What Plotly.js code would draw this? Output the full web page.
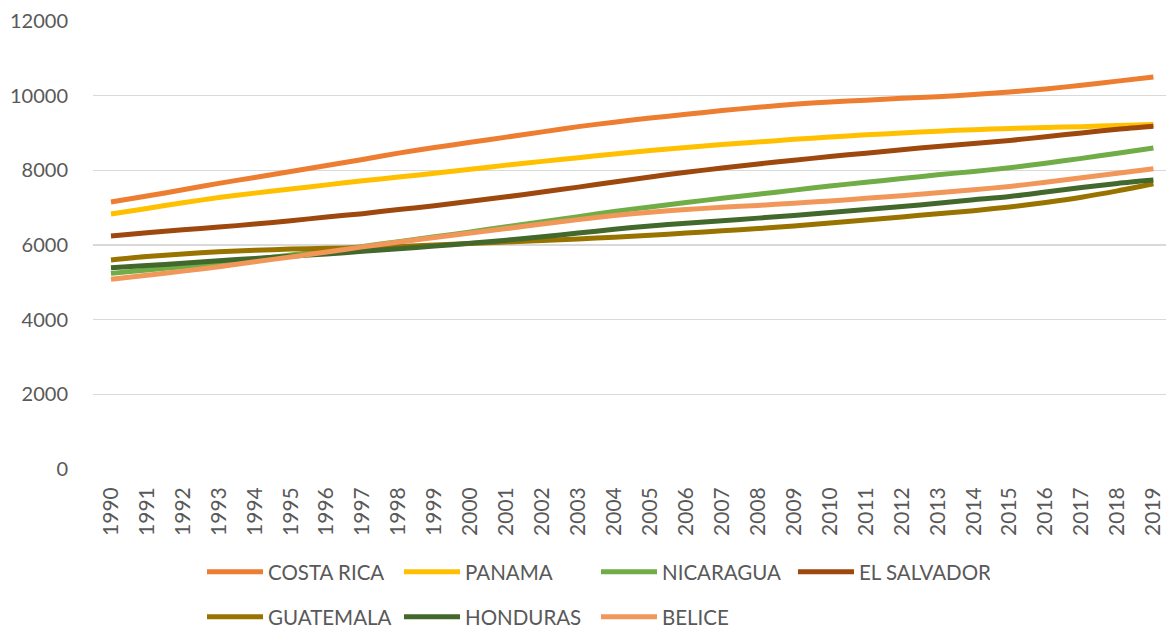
<!DOCTYPE html>
<html>
<head>
<meta charset="utf-8">
<script src="https://cdn.plot.ly/plotly-3.0.1.min.js"></script>
<style>html,body{margin:0;padding:0;background:#fff;}#chart{width:1166px;height:628px;}</style>
</head>
<body>
<div id="chart"></div>
<script>
const years = [1990,1991,1992,1993,1994,1995,1996,1997,1998,1999,2000,2001,2002,2003,2004,2005,2006,2007,2008,2009,2010,2011,2012,2013,2014,2015,2016,2017,2018,2019];
const yearLabels = years.map(String);

const costaRica = [7150,7310,7480,7650,7810,7970,8130,8290,8460,8610,8750,8890,9030,9170,9290,9400,9500,9600,9690,9770,9830,9880,9930,9970,10030,10100,10180,10280,10390,10500];
const panama    = [6830,6980,7130,7270,7390,7500,7610,7720,7820,7920,8030,8140,8240,8340,8440,8530,8610,8690,8760,8830,8890,8950,9000,9050,9090,9120,9150,9170,9200,9230];
const nicaragua = [5240,5330,5420,5520,5620,5730,5840,5960,6090,6220,6350,6490,6620,6760,6900,7020,7140,7250,7360,7470,7580,7680,7780,7880,7970,8070,8190,8320,8460,8600];
const elSalvador= [6240,6330,6410,6480,6560,6650,6750,6840,6950,7050,7170,7290,7420,7550,7690,7820,7950,8060,8170,8270,8370,8460,8550,8640,8720,8800,8900,9000,9100,9180];
const guatemala = [5600,5690,5760,5820,5860,5890,5910,5930,5960,6000,6040,6080,6120,6160,6210,6260,6320,6380,6440,6510,6590,6670,6750,6840,6920,7020,7140,7280,7450,7640];
const honduras  = [5390,5450,5510,5580,5640,5700,5760,5830,5900,5970,6050,6130,6220,6320,6420,6510,6580,6650,6720,6790,6870,6950,7030,7120,7210,7300,7420,7540,7650,7740];
const belice    = [5080,5190,5300,5420,5550,5680,5810,5950,6080,6200,6320,6440,6560,6680,6790,6880,6950,7010,7060,7120,7180,7250,7320,7400,7480,7570,7680,7800,7920,8040];

const seriesNames = ["COSTA RICA","PANAMA","NICARAGUA","EL SALVADOR","GUATEMALA","HONDURAS","BELICE"];
const seriesData = [costaRica,panama,nicaragua,elSalvador,guatemala,honduras,belice];
const seriesColors = ["#ED7D31","#FFC000","#70AD47","#9E480E","#997300","#43682B","#F1975A"];
const legendGroup = ["legend","legend","legend","legend","legend2","legend2","legend2"];

const traces = seriesNames.map((n,i)=>({
  x: years, y: seriesData[i], name: n, type: 'scatter', mode: 'lines',
  line: {color: seriesColors[i], width: 5, shape: 'spline', smoothing: 0.8},
  legend: legendGroup[i], hoverinfo: 'x+y+name'
}));

const fontFam = 'Lato, "Open Sans", sans-serif';
const legendCommon = {
  orientation: 'h', xref: 'container', yref: 'container', xanchor: 'left', yanchor: 'middle',
  font: {family: fontFam, size: 20.5, color: '#595959'},
  entrywidth: 126, entrywidthmode: 'pixels', itemwidth: 56, bgcolor: 'rgba(0,0,0,0)', tracegroupgap: 0
};

const layout = {
  width: 1166, height: 628,
  margin: {l: 93, r: 0, t: 21, b: 159},
  paper_bgcolor: '#ffffff', plot_bgcolor: '#ffffff',
  font: {family: fontFam, color: '#595959'},
  showlegend: true,
  xaxis: {
    range: [1989.5, 2019.35], tickmode: 'array', tickvals: years, ticktext: yearLabels,
    tickangle: -90, tickfont: {family: fontFam, size: 21, color: '#595959'},
    showgrid: false, zeroline: false, showline: false, ticks: '', ticklabelstandoff: 13,
    ticklabeloverflow: 'allow', fixedrange: true
  },
  yaxis: {
    range: [0, 12000], tickmode: 'array', tickvals: [0,2000,4000,6000,8000,10000,12000],
    ticktext: ['0','2000','4000','6000','8000','10000','12000'],
    tickfont: {family: fontFam, size: 20, color: '#595959'},
    showgrid: true, gridcolor: '#d9d9d9', gridwidth: 1.5, zeroline: false, showline: false,
    ticks: '', ticklabelstandoff: 24, fixedrange: true
  },
  legend: Object.assign({}, legendCommon, {x: 202/1166, y: 1 - 572/628}),
  legend2: Object.assign({}, legendCommon, {x: 202/1166, y: 1 - 617/628})
};

Plotly.newPlot('chart', traces, layout, {displayModeBar: false, staticPlot: true});
</script>
</body>
</html>
